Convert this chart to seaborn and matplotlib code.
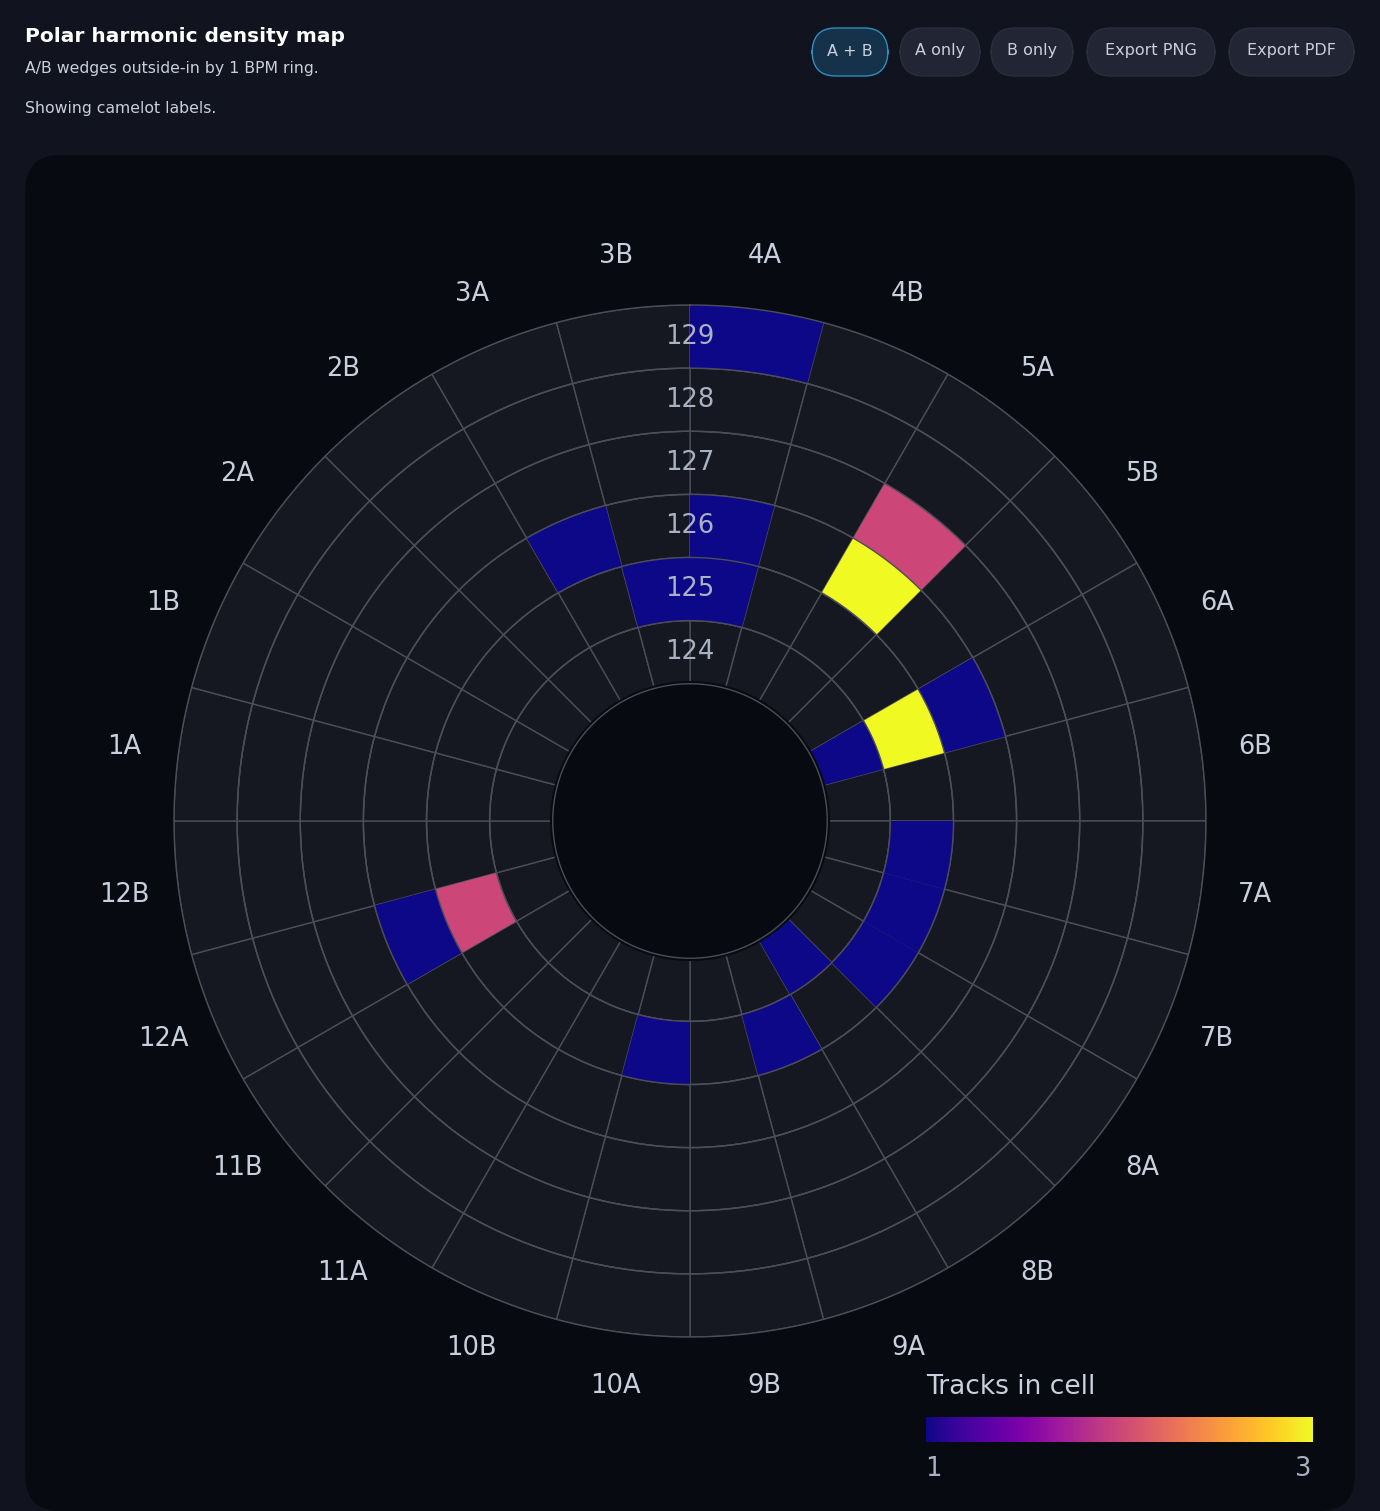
import numpy as np
import pandas as pd
import seaborn as sns
import matplotlib
matplotlib.use("Agg")
import matplotlib.pyplot as plt
from matplotlib.patches import FancyBboxPatch
from matplotlib.colors import Normalize

# ---- data ----
keys = ["4A","4B","5A","5B","6A","6B","7A","7B","8A","8B","9A","9B",
        "10A","10B","11A","11B","12A","12B","1A","1B","2A","2B","3A","3B"]
bpms = [124, 125, 126, 127, 128, 129]
cell_keys  = ["4A","4A","4A","3B","3A","5A","5A","6A","6A","6A","7A","7B","8A","8B","9A","10A","12A","12A"]
cell_bpms  = [129, 126, 125, 125, 126, 127, 126, 126, 125, 124, 125, 125, 125, 124, 125, 125, 125, 126]
cell_count = [1, 1, 1, 1, 1, 2, 3, 1, 3, 1, 1, 1, 1, 1, 1, 1, 2, 1]

df = pd.DataFrame({"key": cell_keys, "bpm": cell_bpms, "count": cell_count})

sns.set_theme(style="dark")
plt.rcParams['font.family'] = ['DejaVu Sans']

BG = "#11131e"; PANEL = "#080a11"; CELL = "#151821"; GRID = "#4b4e58"; TXT = "#c9d0dd"
fig = plt.figure(figsize=(13.8, 15.11), dpi=100, facecolor=BG)

# panel
fig.patches.append(FancyBboxPatch((25/1380, 0), 1330/1380, (1511-155)/1511,
    boxstyle="round,pad=0,rounding_size=0.025", transform=fig.transFigure,
    facecolor=PANEL, edgecolor="none", zorder=-10))

# header
fig.text(25/1380, 1-37/1511, "Polar harmonic density map", color="white", fontsize=14.5,
         fontweight="bold", va="center")
fig.text(25/1380, 1-69/1511, "A/B wedges outside-in by 1 BPM ring.", color=TXT, fontsize=11.3, va="center")
fig.text(25/1380, 1-109/1511, "Showing camelot labels.", color=TXT, fontsize=11.3, va="center")
buttons = [("A + B", 812, 888, True), ("A only", 900, 980, False), ("B only", 991, 1073, False),
           ("Export PNG", 1087, 1215, False), ("Export PDF", 1229, 1354, False)]
for lab, x0, x1, act in buttons:
    fig.patches.append(FancyBboxPatch((x0/1380, 1-76/1511), (x1-x0)/1380, 48/1511,
        boxstyle="round,pad=0,rounding_size=0.017", transform=fig.transFigure,
        facecolor="#16324a" if act else "#222533", edgecolor="#2f8fc0" if act else "#2a2d3a",
        lw=1, zorder=-5))
    fig.text((x0+x1)/2/1380, 1-51/1511, lab, color=TXT, fontsize=11.5, ha="center", va="center", zorder=2)

# polar axes
ax = fig.add_axes([174/1380, (1511-1337)/1511, 1032/1380, 1032/1511], projection="polar")
ax.set_facecolor(PANEL)
ax.patch.set_alpha(0)
ax.patch.set_edgecolor("none")
ax.set_theta_zero_location("N")
ax.set_theta_direction(-1)
ax.set_ylim(0, len(bpms))
ax.set_rorigin(-137/63)
ax.grid(False)
ax.set_xticks([]); ax.set_yticks([])
for s in ax.spines.values():
    s.set_visible(False)

width = 2*np.pi/len(keys)
theta = np.arange(len(keys))*width
for ri in range(len(bpms)):
    ax.bar(theta, np.ones(len(keys)), width=width, bottom=ri, align="edge",
           color=CELL, edgecolor=GRID, linewidth=1.0, zorder=1)

cmap = sns.color_palette("plasma", as_cmap=True)
norm = Normalize(1, 3)
for _, r in df.iterrows():
    ki = keys.index(r["key"]); ri = bpms.index(r["bpm"])
    ax.bar(ki*width, 1, width=width, bottom=ri, align="edge",
           color=cmap(norm(r["count"])), edgecolor="none", zorder=2)
circ = np.linspace(0, 2*np.pi, 400)
ax.plot(circ, np.full(400, 0), color=PANEL, lw=4, zorder=5, clip_on=False)
for ri in range(0, len(bpms)+1):
    ax.plot(circ, np.full(400, ri), color=GRID, lw=1.0, zorder=6, clip_on=False)

for ri, b in enumerate(bpms):
    ax.text(0, ri+0.5, str(b), color="#aab2c2", fontsize=18.5, ha="center", va="center", zorder=7)
for ki, k in enumerate(keys):
    ax.text(ki*width + width/2, len(bpms)+0.86, k, color=TXT, fontsize=18.5,
            ha="center", va="center", zorder=7, clip_on=False)

# colorbar
cax = fig.add_axes([926/1380, 1-1442/1511, 387/1380, 25/1511])
sm = plt.cm.ScalarMappable(norm=norm, cmap=cmap)
cb = fig.colorbar(sm, cax=cax, orientation="horizontal", ticks=[1.04, 2.95])
cb.set_ticklabels(["1", "3"])
cb.outline.set_visible(False)
cax.tick_params(colors="#aab2c2", labelsize=18.5, length=0, pad=10)
fig.text(926/1380, 1-1387/1511, "Tracks in cell", color=TXT, fontsize=19, va="center")

fig.savefig("out.png", dpi=100, facecolor=BG)
